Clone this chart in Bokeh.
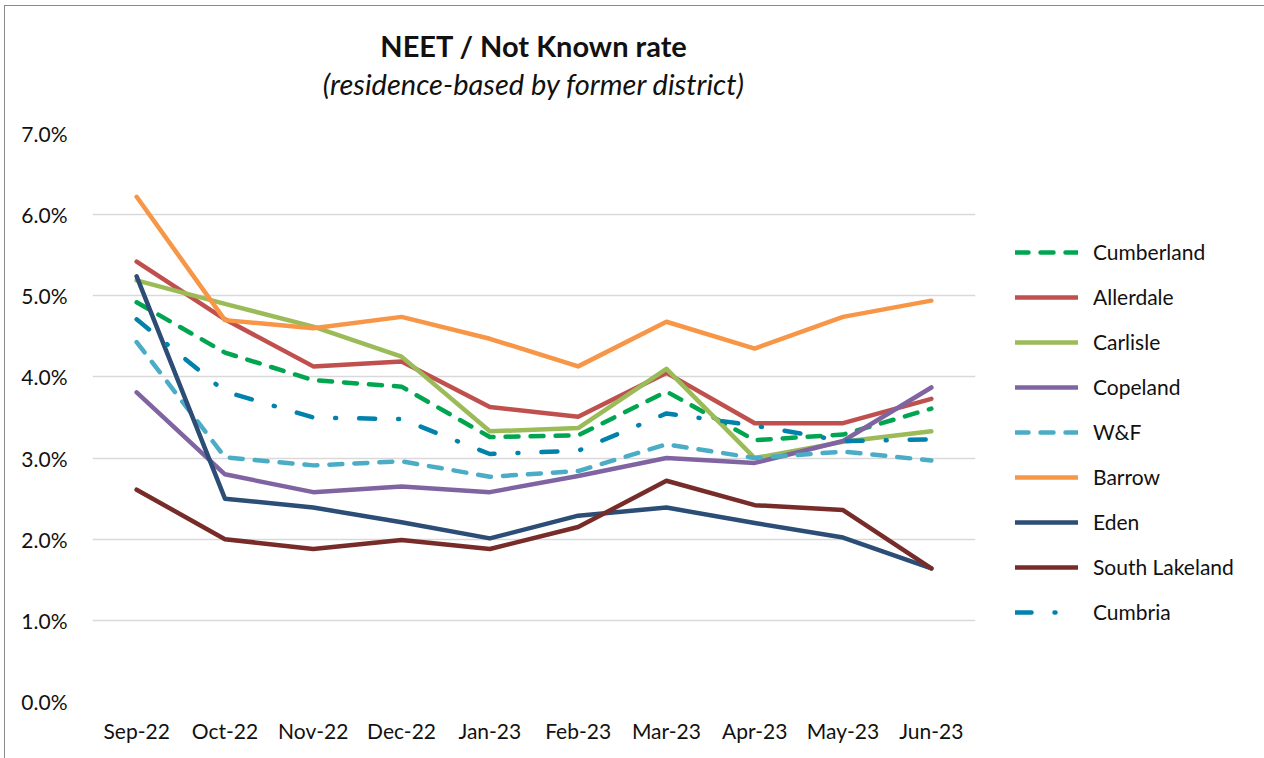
from bokeh.plotting import figure
from bokeh.layouts import row
from bokeh.models import Range1d, FactorRange, FixedTicker, PrintfTickFormatter, Legend, LegendItem, Title
from bokeh.embed import file_html
from bokeh.resources import INLINE

months = ["Sep-22", "Oct-22", "Nov-22", "Dec-22", "Jan-23", "Feb-23", "Mar-23", "Apr-23", "May-23", "Jun-23"]
y_ticks = [0, 1, 2, 3, 4, 5, 6, 7]

cumberland = [4.92, 4.30, 3.96, 3.88, 3.26, 3.28, 3.82, 3.22, 3.29, 3.61]
allerdale = [5.42, 4.71, 4.13, 4.19, 3.63, 3.51, 4.05, 3.43, 3.43, 3.73]
carlisle = [5.19, 4.90, 4.62, 4.25, 3.33, 3.37, 4.10, 3.00, 3.20, 3.33]
copeland = [3.81, 2.80, 2.58, 2.65, 2.58, 2.78, 3.00, 2.94, 3.21, 3.87]
wf = [4.43, 3.01, 2.91, 2.96, 2.77, 2.84, 3.17, 3.00, 3.08, 2.97]
barrow = [6.22, 4.70, 4.60, 4.74, 4.47, 4.13, 4.68, 4.35, 4.74, 4.94]
eden = [5.24, 2.50, 2.39, 2.21, 2.01, 2.29, 2.39, 2.20, 2.02, 1.64]
south_lakeland = [2.61, 2.00, 1.88, 1.99, 1.88, 2.15, 2.72, 2.42, 2.36, 1.64]
cumbria = [4.71, 3.82, 3.50, 3.48, 3.05, 3.09, 3.55, 3.40, 3.21, 3.23]

series = [
    ("Cumberland", cumberland, "#00A550", "13 12"),
    ("Allerdale", allerdale, "#C0504D", "solid"),
    ("Carlisle", carlisle, "#9BBB59", "solid"),
    ("Copeland", copeland, "#8064A2", "solid"),
    ("W&F", wf, "#4BACC6", "13 12"),
    ("Barrow", barrow, "#F79646", "solid"),
    ("Eden", eden, "#2C4D75", "solid"),
    ("South Lakeland", south_lakeland, "#772C2A", "solid"),
    ("Cumbria", cumbria, "#0082AD", "16 23 1 23"),
]

FONT = "Lato"
TXT = "#111111"

# main chart
p = figure(x_range=FactorRange(factors=months), y_range=Range1d(0, 7),
           width=1000, height=758, output_backend="svg", toolbar_location=None,
           title=None, min_border_left=92, min_border_right=25,
           min_border_top=133, min_border_bottom=57)
p.outline_line_color = None
p.background_fill_color = "white"
p.border_fill_color = None

p.xgrid.grid_line_color = None
p.ygrid.grid_line_color = "#D9D9D9"
p.ygrid.grid_line_width = 1.4

for ax in (p.xaxis[0], p.yaxis[0]):
    ax.axis_line_color = None
    ax.major_tick_line_color = None
    ax.minor_tick_line_color = None
    ax.major_label_text_font = FONT
    ax.major_label_text_font_size = "21px"
    ax.major_label_text_color = TXT

p.yaxis[0].ticker = FixedTicker(ticks=y_ticks)
p.yaxis[0].formatter = PrintfTickFormatter(format="%.1f%%")
p.yaxis[0].major_label_standoff = 19
p.xaxis[0].major_label_standoff = 10

for name, vals, color, dash in series:
    p.line(x=months, y=vals, line_color=color, line_width=4.5, line_dash=dash,
           line_cap="round", line_join="round")

p.add_layout(Title(text="(residence-based by former district)", align="center",
                   text_font=FONT, text_font_size="29px", text_font_style="italic",
                   text_color=TXT, standoff=65), "above")
p.add_layout(Title(text="NEET / Not Known rate", align="center",
                   text_font=FONT, text_font_size="29px", text_font_style="bold",
                   text_color=TXT, standoff=-62), "above")

# legend panel: same series drawn far outside its visible y-range, so only the legend shows
p2 = figure(width=264, height=758, output_backend="svg", toolbar_location=None,
            title=None, x_range=FactorRange(factors=months), y_range=Range1d(100, 101),
            x_axis_location=None, y_axis_location=None,
            min_border_left=0, min_border_right=0, min_border_top=0, min_border_bottom=0)
p2.outline_line_color = None
p2.background_fill_color = None
p2.border_fill_color = None
p2.xgrid.grid_line_color = None
p2.ygrid.grid_line_color = None

items = []
for name, vals, color, dash in series:
    r = p2.line(x=months, y=vals, line_color=color, line_width=4.5, line_dash=dash,
                line_cap="round", line_join="round")
    items.append(LegendItem(label=name, renderers=[r]))

legend = Legend(items=items, location=(15, 77), orientation="vertical",
                glyph_width=63, glyph_height=20, label_height=20, spacing=20,
                label_standoff=15, padding=0, margin=0,
                border_line_color=None, background_fill_alpha=0,
                label_text_font=FONT, label_text_font_size="21px",
                label_text_color=TXT)
p2.add_layout(legend, "center")

layout = row(p, p2, spacing=0)
layout.styles = {"box-shadow": "inset 4px 5px 0 0 white, inset 5px 6px 0 0 #8a8a8a",
                 "background": "white"}

open("out.html", "w").write(file_html(layout, INLINE))
